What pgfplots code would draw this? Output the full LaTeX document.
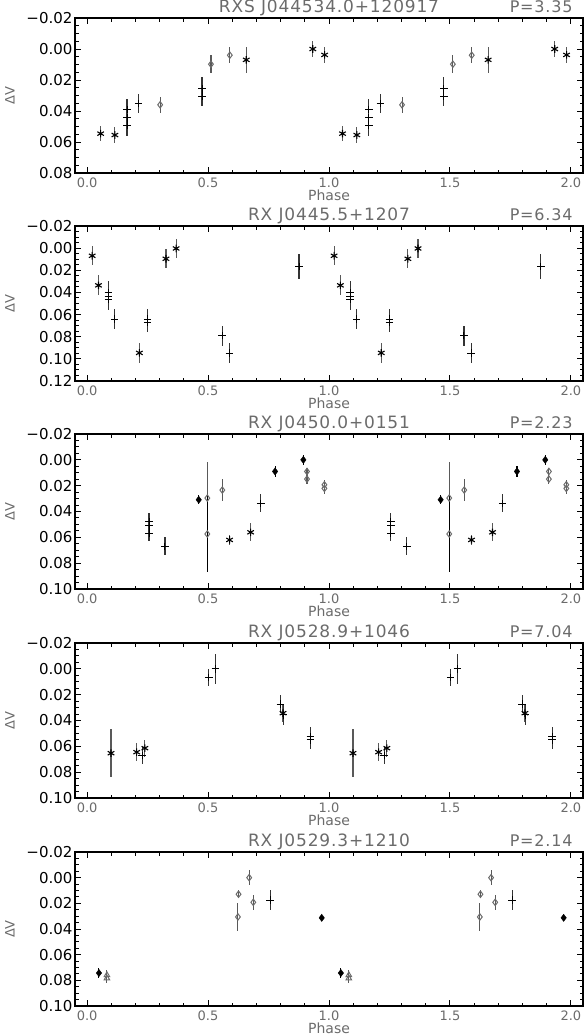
\documentclass[border=0pt]{standalone}
\usepackage{fontspec}
\setmainfont{DejaVu Sans}
\newfontfamily\ttlfont[LetterSpace=5]{DejaVu Sans}
\usepackage{pgfplots}
\pgfplotsset{compat=1.18}
\usetikzlibrary{calc}
\definecolor{idlgray}{gray}{0.42}
\definecolor{bargray}{gray}{0.35}

\pgfplotsset{
  lc/.style={
    scale only axis, width=508pt, height=155pt,
    xmin=-0.05, xmax=2.05, y dir=reverse, clip=false,
    scaled y ticks=false, scaled x ticks=false,
    axis line style={line width=1.6pt, black},
    tick style={line width=1pt, black},
    major tick length=6pt, minor tick length=3.5pt,
    xtick={0,0.5,1,1.5,2}, xticklabels={0.0,0.5,1.0,1.5,2.0},
    minor x tick num=4, minor y tick num=3,
    x tick label style={font=\fontsize{13}{15}\selectfont, text=idlgray, yshift=-1pt},
    y tick label style={font=\fontsize{15}{17}\selectfont, xshift=1pt},
    xlabel={Phase}, ylabel={ΔV},
    xlabel style={font=\fontsize{14}{16}\selectfont, text=idlgray, at={(axis description cs:0.5,-0.145)}, anchor=center},
    ylabel style={font=\fontsize{13}{15}\selectfont, text=idlgray, at={(axis description cs:-0.128,0.5)}, anchor=center},
  },
  eb/.style={only marks,
    error bars/y dir=both, error bars/y explicit, error bars/error mark=none,
    error bars/error bar style={line width=1.1pt, #1}},
  ast/.style={eb=bargray, black, mark=asterisk, mark size=3.8pt, mark options={line width=1.1pt}},
  pls/.style={eb=black!80, black, mark=+, mark size=3.8pt, mark options={line width=1pt}},
  dia/.style={eb=bargray, idlgray, mark=diamond, mark size=3.2pt, mark options={line width=1pt, fill=white}},
  fdia/.style={eb=black, black, mark=diamond*, mark size=3.6pt},
  tri/.style={eb=bargray, idlgray, mark=triangle, mark size=3.2pt, mark options={line width=1pt}},
}

\newcommand{\ptitle}[3]{%
  \node[anchor=base, font=\ttlfont\fontsize{17}{19}\selectfont, text=idlgray]
    at ($(#1.north)+(0,5.6pt)$) {#2};
  \node[anchor=base east, font=\ttlfont\fontsize{16}{18}\selectfont, text=idlgray]
    at ($(#1.north east)+(-7pt,5.6pt)$) {#3};
}

\begin{document}
\begin{tikzpicture}[x=1pt,y=1pt]
\useasboundingbox (0,0) rectangle (585,-1036);

% ---- panel 1
\begin{axis}[lc, name=p1, at={(75pt,-18pt)}, anchor=north west,
  ymin=-0.02, ymax=0.08, ytick={-0.02,0,0.02,0.04,0.06,0.08},
  yticklabels={−0.02,0.00,0.02,0.04,0.06,0.08}]
\addplot[ast] coordinates {(0.056,0.0546)+-(0,0.005) (0.115,0.0555)+-(0,0.005) (0.658,0.007)+-(0,0.0083)
  (0.933,0.000)+-(0,0.005) (0.982,0.0038)+-(0,0.0053)
  (1.056,0.0546)+-(0,0.005) (1.115,0.0555)+-(0,0.005) (1.658,0.007)+-(0,0.0083)
  (1.933,0.000)+-(0,0.005) (1.982,0.0038)+-(0,0.0053)};
\addplot[pls] coordinates {(0.165,0.039)+-(0,0.007) (0.165,0.0444)+-(0,0.006) (0.165,0.0493)+-(0,0.0068)
  (0.213,0.0352)+-(0,0.0064) (0.475,0.0258)+-(0,0.0078) (0.475,0.0305)+-(0,0.006)
  (1.165,0.039)+-(0,0.007) (1.165,0.0444)+-(0,0.006) (1.165,0.0493)+-(0,0.0068)
  (1.213,0.0352)+-(0,0.0064) (1.475,0.0258)+-(0,0.0078) (1.475,0.0305)+-(0,0.006)};
\addplot[dia] coordinates {(0.302,0.036)+-(0,0.005) (0.512,0.0098)+-(0,0.0058) (0.590,0.004)+-(0,0.005)
  (1.302,0.036)+-(0,0.005) (1.512,0.0098)+-(0,0.0058) (1.590,0.004)+-(0,0.005)};
\end{axis}
\ptitle{p1}{RXS J044534.0+120917}{P=3.35}

% ---- panel 2
\begin{axis}[lc, name=p2, at={(75pt,-226pt)}, anchor=north west,
  ymin=-0.02, ymax=0.12, ytick={-0.02,0,0.02,0.04,0.06,0.08,0.10,0.12},
  yticklabels={−0.02,0.00,0.02,0.04,0.06,0.08,0.10,0.12}]
\addplot[ast] coordinates {(0.021,0.0069)+-(0,0.0084) (0.047,0.0336)+-(0,0.009) (0.216,0.0946)+-(0,0.0087)
  (0.326,0.0096)+-(0,0.0086) (0.368,0.0003)+-(0,0.0086)
  (1.021,0.0069)+-(0,0.0084) (1.047,0.0336)+-(0,0.009) (1.216,0.0946)+-(0,0.0087)
  (1.326,0.0096)+-(0,0.0086) (1.368,0.0003)+-(0,0.0086)};
\addplot[pls] coordinates {(0.088,0.0405)+-(0,0.0105) (0.088,0.0435)+-(0,0.009) (0.088,0.0465)+-(0,0.009)
  (0.114,0.064)+-(0,0.0093) (0.250,0.064)+-(0,0.009) (0.250,0.067)+-(0,0.009)
  (0.558,0.079)+-(0,0.009) (0.588,0.0949)+-(0,0.009) (0.876,0.0165)+-(0,0.011)
  (1.088,0.0405)+-(0,0.0105) (1.088,0.0435)+-(0,0.009) (1.088,0.0465)+-(0,0.009)
  (1.114,0.064)+-(0,0.0093) (1.250,0.064)+-(0,0.009) (1.250,0.067)+-(0,0.009)
  (1.558,0.079)+-(0,0.009) (1.588,0.0949)+-(0,0.009) (1.876,0.0165)+-(0,0.011)};
\end{axis}
\ptitle{p2}{RX J0445.5+1207}{P=6.34}

% ---- panel 3
\begin{axis}[lc, name=p3, at={(75pt,-434pt)}, anchor=north west,
  ymin=-0.02, ymax=0.10, ytick={-0.02,0,0.02,0.04,0.06,0.08,0.10},
  yticklabels={−0.02,0.00,0.02,0.04,0.06,0.08,0.10}]
\addplot[dia] coordinates {(0.497,0.0296)+-(0,0.028) (1.497,0.0296)+-(0,0.028)};
\addplot[dia, error bars/error bar style={line width=1.1pt, black}] coordinates {(0.497,0.0574)+-(0,0.0295) (1.497,0.0574)+-(0,0.0295)};
\addplot[dia] coordinates {(0.559,0.0234)+-(0,0.0082) (0.909,0.009)+-(0,0.003) (0.909,0.0149)+-(0,0.004)
  (0.981,0.0193)+-(0,0.0035) (0.981,0.0221)+-(0,0.004)
  (1.559,0.0234)+-(0,0.0082) (1.909,0.009)+-(0,0.003) (1.909,0.0149)+-(0,0.004)
  (1.981,0.0193)+-(0,0.0035) (1.981,0.0221)+-(0,0.004)};
\addplot[pls] coordinates {(0.256,0.0476)+-(0,0.0066) (0.256,0.051)+-(0,0.006) (0.256,0.0569)+-(0,0.0063)
  (0.322,0.067)+-(0,0.007) (0.718,0.0337)+-(0,0.007)
  (1.256,0.0476)+-(0,0.0066) (1.256,0.051)+-(0,0.006) (1.256,0.0569)+-(0,0.0063)
  (1.322,0.067)+-(0,0.007) (1.718,0.0337)+-(0,0.007)};
\addplot[fdia] coordinates {(0.4615,0.0309)+-(0,0.0035) (0.777,0.009)+-(0,0.0045) (0.894,0.000)+-(0,0.004)
  (1.4615,0.0309)+-(0,0.0035) (1.777,0.009)+-(0,0.0045) (1.894,0.000)+-(0,0.004)};
\addplot[ast] coordinates {(0.589,0.062)+-(0,0.0037) (0.676,0.0561)+-(0,0.007)
  (1.589,0.062)+-(0,0.0037) (1.676,0.0561)+-(0,0.007)};
\end{axis}
\ptitle{p3}{RX J0450.0+0151}{P=2.23}

% ---- panel 4
\begin{axis}[lc, name=p4, at={(75pt,-643pt)}, anchor=north west,
  ymin=-0.02, ymax=0.10, ytick={-0.02,0,0.02,0.04,0.06,0.08,0.10},
  yticklabels={−0.02,0.00,0.02,0.04,0.06,0.08,0.10}]
\addplot[ast] coordinates {(0.099,0.0653)+-(0,0.0186) (0.205,0.0645)+-(0,0.0068) (0.239,0.0614)+-(0,0.0065)
  (0.810,0.0343)+-(0,0.007)
  (1.099,0.0653)+-(0,0.0186) (1.205,0.0645)+-(0,0.0068) (1.239,0.0614)+-(0,0.0065)
  (1.810,0.0343)+-(0,0.007)};
\addplot[pls] coordinates {(0.228,0.0671)+-(0,0.0065) (0.503,0.0067)+-(0,0.0067) (0.531,0.000)+-(0,0.0115)
  (0.799,0.0274)+-(0,0.007) (0.812,0.0356)+-(0,0.0075) (0.923,0.0524)+-(0,0.007) (0.923,0.055)+-(0,0.007)
  (1.228,0.0671)+-(0,0.0065) (1.503,0.0067)+-(0,0.0067) (1.531,0.000)+-(0,0.0115)
  (1.799,0.0274)+-(0,0.007) (1.812,0.0356)+-(0,0.0075) (1.923,0.0524)+-(0,0.007) (1.923,0.055)+-(0,0.007)};
\end{axis}
\ptitle{p4}{RX J0528.9+1046}{P=7.04}

% ---- panel 5
\begin{axis}[lc, name=p5, at={(75pt,-852pt)}, anchor=north west, height=154pt,
  ymin=-0.02, ymax=0.10, ytick={-0.02,0,0.02,0.04,0.06,0.08,0.10},
  yticklabels={−0.02,0.00,0.02,0.04,0.06,0.08,0.10}]
\addplot[fdia] coordinates {(0.049,0.0743)+-(0,0.004) (0.970,0.0313)+-(0,0.0025)
  (1.049,0.0743)+-(0,0.004) (1.970,0.0313)+-(0,0.0025)};
\addplot[tri] coordinates {(0.082,0.0759)+-(0,0.004) (0.082,0.0784)+-(0,0.0035)
  (1.082,0.0759)+-(0,0.004) (1.082,0.0784)+-(0,0.0035)};
\addplot[dia] coordinates {(0.6236,0.0306)+-(0,0.0106) (0.626,0.0129)+-(0,0.003) (0.670,0.000)+-(0,0.0057)
  (0.687,0.0192)+-(0,0.006)
  (1.6236,0.0306)+-(0,0.0106) (1.626,0.0129)+-(0,0.003) (1.670,0.000)+-(0,0.0057)
  (1.687,0.0192)+-(0,0.006)};
\addplot[pls] coordinates {(0.757,0.0176)+-(0,0.0078) (1.757,0.0176)+-(0,0.0078)};
\end{axis}
\ptitle{p5}{RX J0529.3+1210}{P=2.14}
\end{tikzpicture}
\end{document}
